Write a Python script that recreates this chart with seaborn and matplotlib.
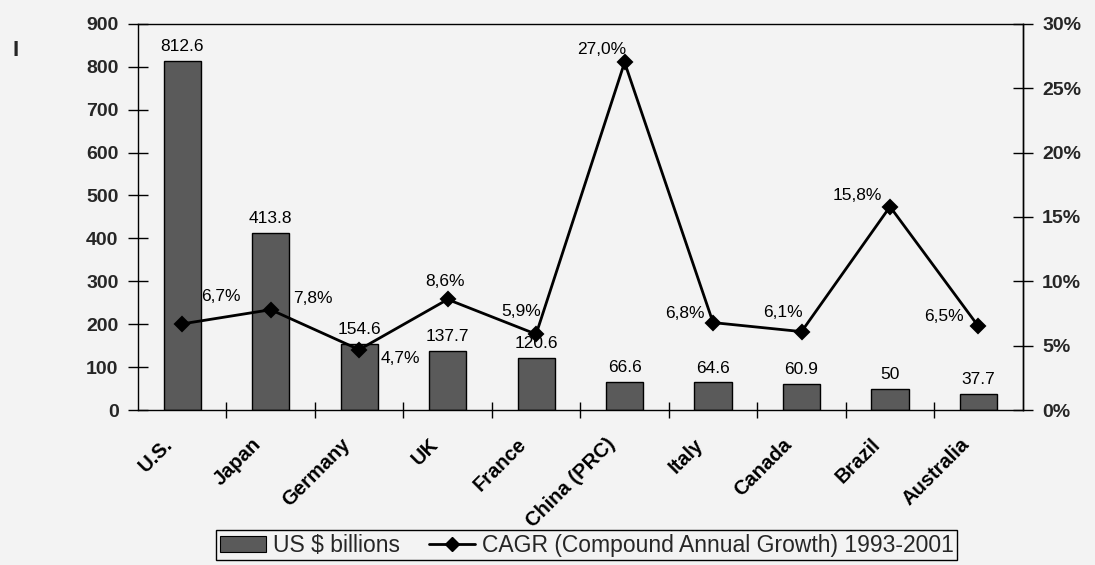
import numpy as np
import pandas as pd
import matplotlib
matplotlib.use("Agg")
import matplotlib.pyplot as plt
import seaborn as sns
from matplotlib.ticker import PercentFormatter
from matplotlib.patches import Patch
from matplotlib.lines import Line2D
from matplotlib.transforms import ScaledTranslation

# ---- data ----
countries = ["U.S.", "Japan", "Germany", "UK", "France", "China (PRC)",
             "Italy", "Canada", "Brazil", "Australia"]
usd_billions = [812.6, 413.8, 154.6, 137.7, 120.6, 66.6, 64.6, 60.9, 50, 37.7]
cagr_pct = [6.7, 7.8, 4.7, 8.6, 5.9, 27.0, 6.8, 6.1, 15.8, 6.5]
bar_labels = ["812.6", "413.8", "154.6", "137.7", "120.6", "66.6", "64.6",
              "60.9", "50", "37.7"]
cagr_labels = ["6,7%", "7,8%", "4,7%", "8,6%", "5,9%", "27,0%", "6,8%",
               "6,1%", "15,8%", "6,5%"]
left_ticks = [0, 100, 200, 300, 400, 500, 600, 700, 800, 900]
right_ticks = [0, 5, 10, 15, 20, 25, 30]
legend_labels = ["US $ billions", "CAGR (Compound Annual Growth) 1993-2001"]

# label offsets (pixels) for the CAGR annotations
cagr_label_offsets = [(39, 27), (42, 11), (41, -9), (-3, 18), (-15, 23),
                      (-23, 13), (-28, 9), (-19, 19), (-33, 11), (-35, 10)]

bg = "#f3f3f3"
bar_color = "#5a5a5a"

sns.set_theme(style="white")
plt.rcParams["font.family"] = ["Liberation Sans", "DejaVu Sans"]

fig = plt.figure(figsize=(10.95, 5.65), dpi=100, facecolor=bg)
ax = fig.add_axes([0.126, 0.274, 0.808, 0.684])
ax.set_facecolor(bg)

df = pd.DataFrame({"country": countries, "usd": usd_billions, "cagr": cagr_pct})

sns.barplot(data=df, x="country", y="usd", ax=ax, color=bar_color,
            saturation=1, width=0.42, edgecolor="black", linewidth=1)

ax2 = ax.twinx()
sns.pointplot(data=df, x="country", y="cagr", ax=ax2, color="black",
              markers="D", markersize=7, linewidth=2)

ax.set_xlim(-0.5, len(countries) - 0.5)
ax.set_ylim(0, 900)
ax2.set_ylim(0, 30)
ax.set_yticks(left_ticks)
ax2.set_yticks(right_ticks)
ax2.yaxis.set_major_formatter(PercentFormatter(decimals=0))

ax.set_xlabel("")
ax.set_ylabel("")
ax2.set_xlabel("")
ax2.set_ylabel("")
ax.grid(False)
ax2.grid(False)

# spines
for s in ax.spines.values():
    s.set_visible(True)
    s.set_color("black")
    s.set_linewidth(1)
for name, s in ax2.spines.items():
    s.set_visible(name == "right")
    s.set_color("black")
    s.set_linewidth(1)

# ticks
ax.set_xticks(np.arange(len(countries)))
ax.set_xticks(np.arange(0.5, len(countries) - 1, 1), minor=True)
ax.tick_params(axis="x", which="major", bottom=True, length=0, pad=12)
ax.tick_params(axis="x", which="minor", bottom=True, direction="inout",
               length=12, width=1, color="black")
ax.tick_params(axis="y", left=True, direction="inout", length=14, width=1,
               color="black", pad=7)
ax2.tick_params(axis="y", right=True, direction="inout", length=14, width=1,
                color="black", pad=7)
ax.set_xticklabels(countries, rotation=45, ha="right",
                   rotation_mode="anchor", fontsize=14.5, fontweight="bold",
                   color="black")
for lab in ax.get_yticklabels():
    lab.set_fontsize(14); lab.set_fontweight("bold")
for lab in ax2.get_yticklabels():
    lab.set_fontsize(14); lab.set_fontweight("bold")

# bar value labels
ax.bar_label(ax.containers[0], labels=bar_labels, padding=5, fontsize=12.5,
             color="black")

# CAGR labels
for i, (v, lab, off) in enumerate(zip(cagr_pct, cagr_labels, cagr_label_offsets)):
    ax2.annotate(lab, xy=(i, v), xytext=off, textcoords="offset pixels",
                 ha="center", va="center", fontsize=12.5, color="black")

# legend
handles = [Patch(facecolor=bar_color, edgecolor="black", linewidth=0.8),
           Line2D([], [], color="black", marker="D", lw=2, markersize=7)]
leg = fig.legend(handles=handles, labels=legend_labels, ncol=2, loc="center",
                 bbox_to_anchor=(0.536, 0.035), frameon=True, fancybox=False,
                 edgecolor="black", framealpha=1, facecolor=bg,
                 prop={"family": ["Liberation Sans"], "size": 16.5},
                 handlelength=2.0, handletextpad=0.3, columnspacing=1.3,
                 borderpad=0.15)
leg.get_frame().set_linewidth(1)

fig.text(12 / 1095, 1 - 50 / 565, "I", fontsize=16, fontweight="bold",
         ha="left", va="center")

# shift the rotated category labels (after all tick_params calls)
shift = ScaledTranslation(-19 / 100, -8 / 100, fig.dpi_scale_trans)
for lab in ax.xaxis.get_majorticklabels():
    lab.set_transform(lab.get_transform() + shift)

fig.savefig("out.png", dpi=100, facecolor=bg)
